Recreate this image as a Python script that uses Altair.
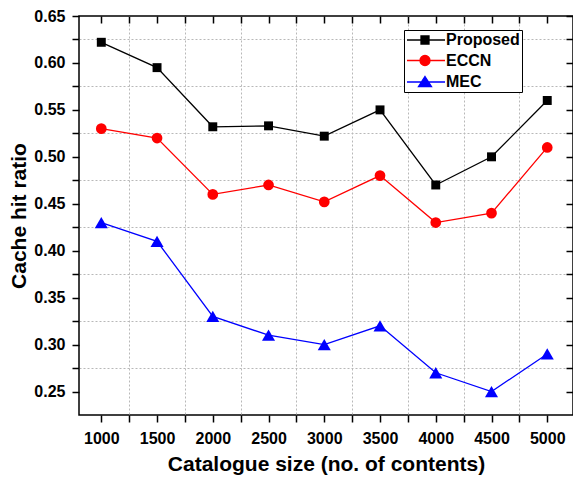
import altair as alt
import pandas as pd

# ---- data ----
catalogue = [1000, 1500, 2000, 2500, 3000, 3500, 4000, 4500, 5000]
proposed = [0.622, 0.595, 0.532, 0.533, 0.522, 0.550, 0.470, 0.500, 0.560]
eccn = [0.530, 0.520, 0.460, 0.470, 0.452, 0.480, 0.430, 0.440, 0.510]
mec = [0.430, 0.410, 0.330, 0.310, 0.300, 0.320, 0.270, 0.250, 0.290]

series_names = ["Proposed", "ECCN", "MEC"]
series_colors = ["#000000", "#ff0000", "#0000ff"]
marker_shapes = ["square", "circle", "triangle-up"]
marker_sizes = [80, 115, 170]

x_ticks = [1000, 1250, 1500, 1750, 2000, 2250, 2500, 2750, 3000, 3250,
           3500, 3750, 4000, 4250, 4500, 4750, 5000]
y_ticks = [0.25, 0.275, 0.3, 0.325, 0.35, 0.375, 0.4, 0.425, 0.45, 0.475,
           0.5, 0.525, 0.55, 0.575, 0.6, 0.625, 0.65]

# legend symbols: a line segment with the marker on it
legend_paths = [
    "M-1.4,0L6.2,0M1.4,-0.8L3.0,-0.8L3.0,0.8L1.4,0.8Z",
    "M-1.4,0L6.2,0M1.2,0A1,1,0,1,1,3.2,0A1,1,0,1,1,1.2,0Z",
    "M-1.4,0L6.2,0M2.2,-1.1L3.5,0.9L0.9,0.9Z",
]

rows = []
for name, vals in zip(series_names, [proposed, eccn, mec]):
    for c, v in zip(catalogue, vals):
        rows.append({"size": c, "ratio": v, "series": name})
df = pd.DataFrame(rows)

FONT = "Liberation Sans"
W, H = 494, 399

x_scale = alt.Scale(domain=[800, 5231], nice=False, zero=False)
y_scale = alt.Scale(domain=[0.225, 0.65], nice=False, zero=False)

x_main_axis = alt.Axis(
    values=x_ticks, format="d",
    labelExpr="datum.value % 500 == 0 ? datum.label : ''",
    title="Catalogue size (no. of contents)",
    domain=False, tickSize=7, tickWidth=1.5, tickColor="black",
    labelFont=FONT, labelFontWeight="bold", labelFontSize=16, labelColor="black",
    labelPadding=8, labelFlush=False, labelOverlap=False,
    titleFont=FONT, titleFontWeight="bold", titleFontSize=21, titleColor="black",
    titlePadding=7,
    grid=True, gridDash=[2, 2], gridColor="#b8b8b8", gridWidth=1,
    gridOpacity={"condition": {"test": "datum.value % 500 == 0", "value": 0}, "value": 1},
)
y_main_axis = alt.Axis(
    values=y_ticks,
    labelExpr="round(datum.value * 1000) % 50 == 0 ? format(datum.value, '.2f') : ''",
    title="Cache hit ratio",
    domain=False, tickSize=7, tickWidth=1.5, tickColor="black",
    labelFont=FONT, labelFontWeight="bold", labelFontSize=16, labelColor="black",
    labelPadding=7, labelFlush=False, labelOverlap=False,
    titleFont=FONT, titleFontWeight="bold", titleFontSize=21, titleColor="black",
    titlePadding=4,
    grid=True, gridDash=[2, 2], gridColor="#b8b8b8", gridWidth=1,
    gridOpacity={"condition": {"test": "round(datum.value * 1000) % 50 == 0", "value": 0}, "value": 1},
)
x_mirror_axis = alt.Axis(
    orient="bottom", offset=-H, values=x_ticks, labels=False, domain=False,
    grid=False, tickSize=7, tickWidth=1.5, tickColor="black", title=None,
)
y_mirror_axis = alt.Axis(
    orient="left", offset=-W, values=y_ticks, labels=False, domain=False,
    grid=False, tickSize=7, tickWidth=1.5, tickColor="black", title=None,
)

base = alt.Chart(df)

layers = []
for i, (name, col) in enumerate(zip(series_names, series_colors)):
    layers.append(
        base.transform_filter(alt.datum.series == name)
        .mark_line(color=col, strokeWidth=1.3)
        .encode(
            x=alt.X("size:Q", scale=x_scale, axis=x_main_axis if i == 0 else None),
            y=alt.Y("ratio:Q", scale=y_scale, axis=y_main_axis if i == 0 else None),
        )
    )
for i, (name, col, shp, sz) in enumerate(zip(series_names, series_colors, marker_shapes, marker_sizes)):
    layers.append(
        base.transform_filter(alt.datum.series == name)
        .mark_point(shape=shp, filled=True, size=sz, opacity=1, color=col)
        .encode(
            x=alt.X("size:Q", scale=x_scale, axis=x_mirror_axis if i == 0 else None),
            y=alt.Y("ratio:Q", scale=y_scale, axis=y_mirror_axis if i == 0 else None),
        )
    )

legend_def = alt.Legend(
    title=None, orient="none", legendX=325, legendY=14,
    strokeColor="black", fillColor="white", padding=2,
    symbolSize=100, symbolStrokeWidth=1.3, symbolOpacity=1,
    labelOffset=24, labelFont=FONT, labelFontWeight="bold", labelFontSize=16,
    labelColor="black", rowPadding=4.5,
)
legend_layer = base.mark_point(filled=True, opacity=0).encode(
    x=alt.X("size:Q", scale=x_scale, axis=None),
    y=alt.Y("ratio:Q", scale=y_scale, axis=None),
    fill=alt.Fill("series:N", scale=alt.Scale(domain=series_names, range=series_colors), legend=legend_def),
    stroke=alt.Stroke("series:N", scale=alt.Scale(domain=series_names, range=series_colors), legend=legend_def),
    shape=alt.Shape("series:N", scale=alt.Scale(domain=series_names, range=legend_paths), legend=legend_def),
)
layers.append(legend_layer)

chart = alt.layer(*layers).resolve_axis(
    x="independent", y="independent"
).properties(
    width=W, height=H,
    autosize=alt.AutoSizeParams(type="none"),
    padding={"left": 71, "top": 8, "right": 0, "bottom": 61},
).configure_view(stroke="black", strokeWidth=1.5)

chart.save("out.html", embed_options={"renderer": "svg", "actions": False})
